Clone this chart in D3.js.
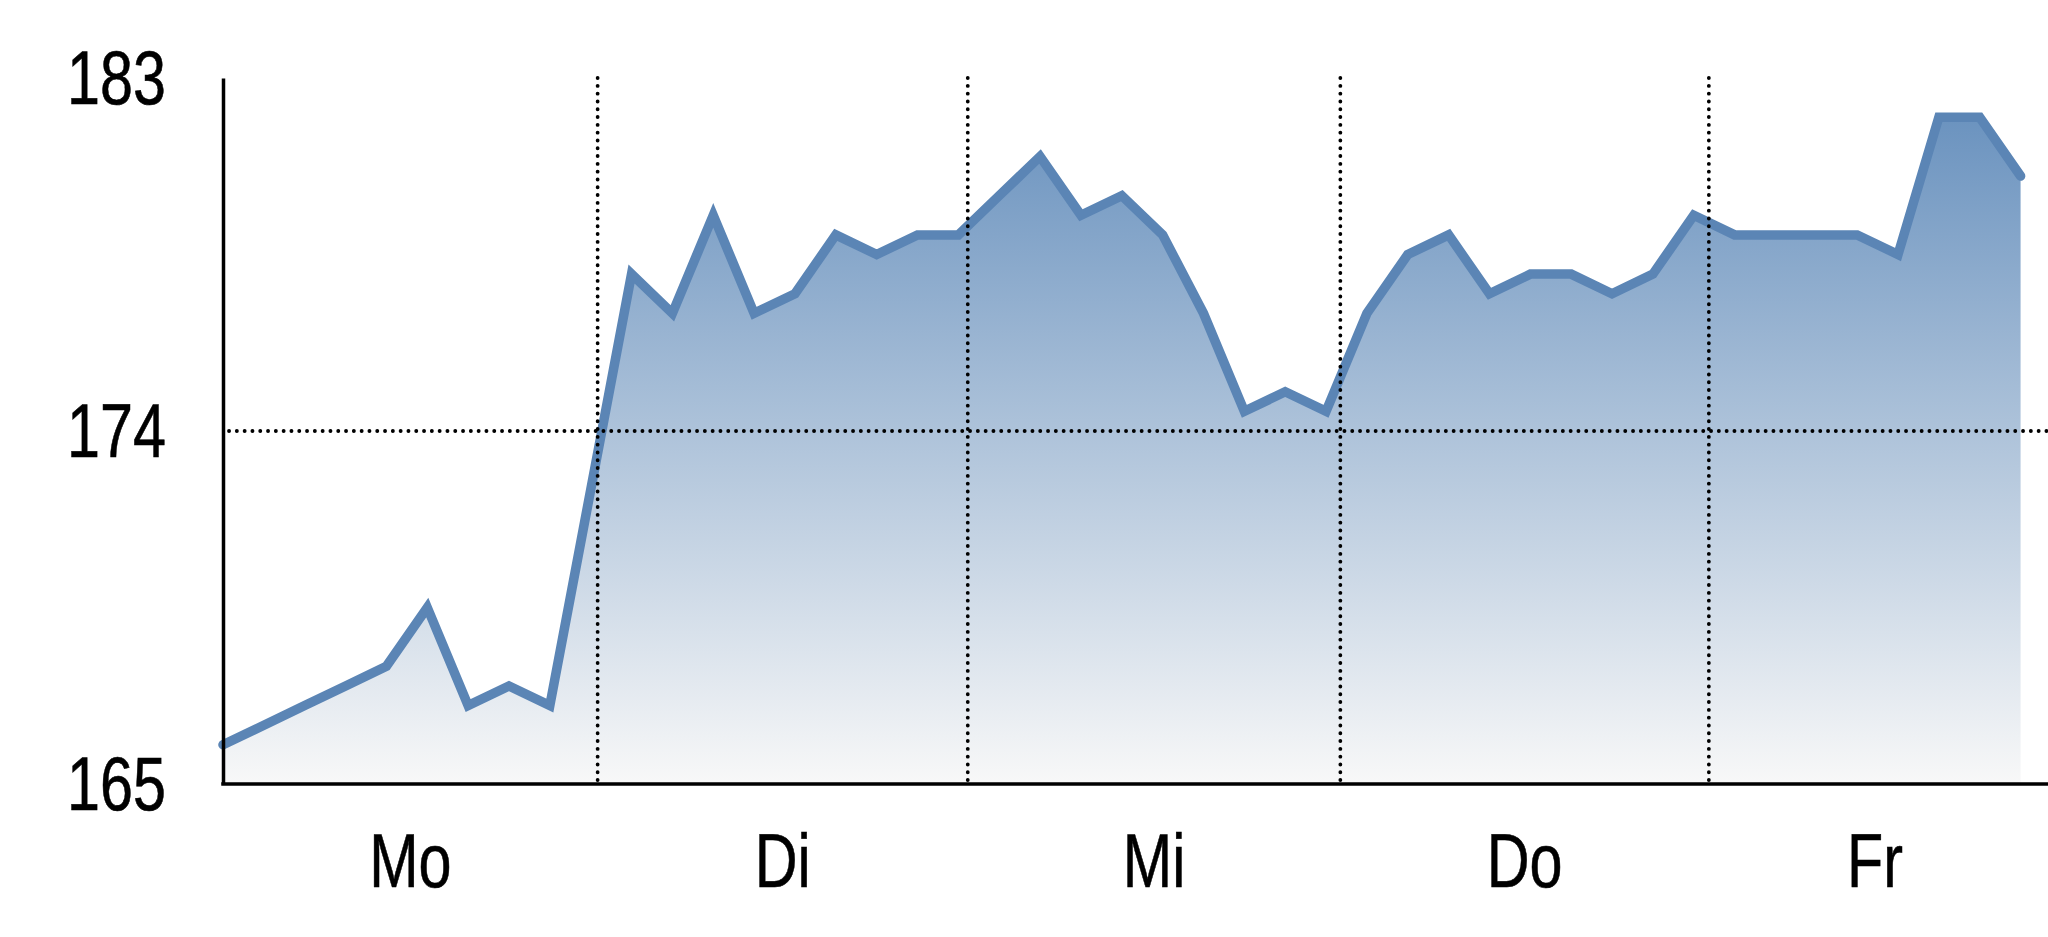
<!DOCTYPE html>
<html>
<head>
<meta charset="utf-8">
<script src="https://cdn.jsdelivr.net/npm/d3@7"></script>
<style>
  html, body { margin: 0; padding: 0; background: #ffffff; }
  svg { display: block; }
  text { font-family: "Liberation Sans", Arial, sans-serif; fill: #000; }
</style>
</head>
<body>
<svg id="chart" width="2048" height="937"></svg>
<script>
// ---- data ----
const days = ["Mo", "Di", "Mi", "Do", "Fr"];
// day boundaries in point-index units (first = start, last = right end of plot)
const dayEdges = [0, 9.17, 18.23, 27.35, 36.37, 44.5];
const values = [
  166, 166.5, 167, 167.5, 168, 169.5, 167, 167.5, 167, 172.5,
  178, 177, 179.5, 177, 177.5, 179, 178.5, 179, 179, 180,
  181, 179.5, 180, 179, 177, 174.5, 175, 174.5, 177, 178.5,
  179, 177.5, 178, 178, 177.5, 178, 179.5, 179, 179, 179,
  179, 178.5, 182, 182, 180.5
];
const yTicks = [165, 174, 183];
const yGrid = [174];

// ---- layout ----
const W = 2048, H = 937;
const svg = d3.select("#chart");
const x = d3.scaleLinear().domain([0, 44.5]).range([223, 2041]);
const y = d3.scaleLinear().domain([165, 183]).range([784, 78]);
const pts = values.map((v, i) => [i, v]);

// gradient
const defs = svg.append("defs");
const grad = defs.append("linearGradient")
  .attr("id", "areaGrad")
  .attr("gradientUnits", "userSpaceOnUse")
  .attr("x1", 0).attr("x2", 0)
  .attr("y1", y(d3.max(values))).attr("y2", y(165));
grad.append("stop").attr("offset", "0%").attr("stop-color", "#6b93bf");
grad.append("stop").attr("offset", "100%").attr("stop-color", "#f8f8f8");

// area
const area = d3.area().x(d => x(d[0])).y0(y(165)).y1(d => y(d[1]));
svg.append("path").datum(pts)
  .attr("d", area)
  .attr("fill", "url(#areaGrad)");

// line
const line = d3.line().x(d => x(d[0])).y(d => y(d[1]));
svg.append("path").datum(pts)
  .attr("d", line)
  .attr("fill", "none")
  .attr("stroke", "#5b85b5")
  .attr("stroke-width", 9.5)
  .attr("stroke-linejoin", "miter")
  .attr("stroke-linecap", "round");

// dotted grid lines
const dotStyle = sel => sel
  .attr("stroke", "#000")
  .attr("stroke-width", 3.8)
  .attr("stroke-linecap", "round")
  .attr("stroke-dasharray", "0.1 7.7");

svg.append("g").selectAll("line")
  .data(dayEdges.slice(1, dayEdges.length - 1))
  .join("line")
  .attr("x1", d => x(d)).attr("x2", d => x(d))
  .attr("y1", y(183)).attr("y2", y(165))
  .call(dotStyle);

svg.append("g").selectAll("line")
  .data(yGrid)
  .join("line")
  .attr("x1", x(0) + 6).attr("x2", W)
  .attr("y1", d => y(d)).attr("y2", d => y(d))
  .call(dotStyle);

// y axis
const yAxis = d3.axisLeft(y).tickValues(yTicks).tickSize(0).tickSizeOuter(0).tickPadding(0);
const gy = svg.append("g").attr("transform", `translate(${x(0)},0)`).call(yAxis);
gy.select(".domain").attr("stroke", "#000").attr("stroke-width", 3.5);
gy.selectAll(".tick text").remove();
svg.append("g").selectAll("text")
  .data(yTicks)
  .join("text")
  .attr("transform", d => `translate(166,${y(d) + 26}) scale(0.78,1)`)
  .attr("text-anchor", "end")
  .attr("font-size", 76)
  .attr("stroke", "#000").attr("stroke-width", 0.6)
  .text(d => d);

// x axis line
svg.append("line")
  .attr("x1", x(0) - 1.75).attr("x2", W)
  .attr("y1", y(165)).attr("y2", y(165))
  .attr("stroke", "#000").attr("stroke-width", 3.5);

// day labels centered in their bands
svg.append("g").selectAll("text")
  .data(days)
  .join("text")
  .attr("transform", (d, i) => `translate(${(x(dayEdges[i]) + x(dayEdges[i + 1])) / 2},887) scale(0.78,1)`)
  .attr("text-anchor", "middle")
  .attr("font-size", 76)
  .attr("stroke", "#000").attr("stroke-width", 0.6)
  .text(d => d);
</script>
</body>
</html>
